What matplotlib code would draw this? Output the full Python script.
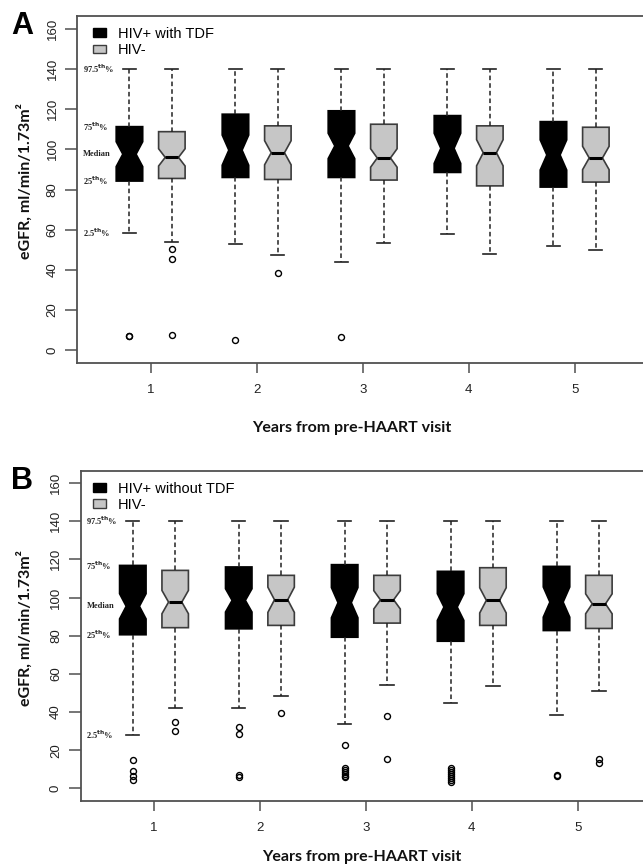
import matplotlib
matplotlib.use("Agg")
import matplotlib.pyplot as plt
from matplotlib.patches import Patch
from matplotlib.transforms import blended_transform_factory

# ---- data ----
years = [1, 2, 3, 4, 5]
hi_whisker = [140, 140, 140, 140, 140]

# panel A: HIV+ with TDF vs HIV-
a_pos_q1 = [84.2, 86.0, 86.0, 88.5, 81.2]
a_pos_med = [97.6, 99.6, 101.7, 100.5, 97.2]
a_pos_q3 = [111.3, 117.5, 119.2, 116.8, 113.8]
a_pos_lo = [58.5, 53.0, 43.8, 57.8, 51.8]
a_pos_notch = [6.2, 7.5, 6.3, 7.5, 7.5]
a_pos_fliers = [[7.2, 6.8], [5.2], [6.5], [], []]

a_neg_q1 = [85.5, 85.0, 84.7, 81.8, 83.7]
a_neg_med = [96.0, 98.3, 95.7, 98.3, 95.7]
a_neg_q3 = [108.8, 111.7, 112.5, 111.7, 111.0]
a_neg_lo = [53.8, 47.5, 53.5, 47.8, 50.0]
a_neg_notch = [4.3, 6.0, 4.6, 6.5, 5.8]
a_neg_fliers = [[50.2, 45.5, 7.7], [38.5], [], [], []]

# panel B: HIV+ without TDF vs HIV-
b_pos_q1 = [80.5, 83.6, 79.2, 77.1, 82.7]
b_pos_med = [95.4, 98.5, 97.3, 95.0, 97.6]
b_pos_q3 = [116.8, 116.0, 117.2, 113.7, 116.3]
b_pos_lo = [28.2, 42.2, 33.6, 44.8, 38.3]
b_pos_notch = [6.6, 6.1, 7.9, 7.0, 7.9]
b_pos_fliers = [[15, 9, 6.7, 4.5], [32.2, 28.3, 7.2, 6.1],
                [23, 10.5, 9.5, 8.5, 7.5, 6.5, 6],
                [10.5, 9.5, 8.5, 7.5, 6.5, 5.5, 4.5, 3.2], [7, 6.6]]

b_neg_q1 = [84.2, 85.4, 86.6, 85.4, 83.8]
b_neg_med = [97.6, 98.8, 98.8, 98.5, 96.7]
b_neg_q3 = [114.2, 111.6, 111.6, 115.6, 111.6]
b_neg_lo = [42.2, 48.3, 54.0, 53.5, 50.9]
b_neg_notch = [6.1, 6.6, 4.8, 6.6, 5.2]
b_neg_fliers = [[34.8, 30.3], [39.6], [37.8, 15.6], [], [15.4, 13.1]]

GRAY = "#c6c6c6"
EDGE = "#3c3c3c"
W, H = 643, 867


def make_stats(q1, med, q3, lo, hi, notch, fliers):
    out = []
    for i in range(len(q1)):
        out.append(dict(q1=q1[i], med=med[i], q3=q3[i], whislo=lo[i], whishi=hi[i],
                        cilo=med[i] - notch[i], cihi=med[i] + notch[i],
                        fliers=fliers[i], label=""))
    return out


def draw_group(ax, stats, positions, face, edge):
    ax.bxp(stats, positions=positions, widths=0.25, capwidths=0.125,
           shownotches=True, patch_artist=True, manage_ticks=False,
           boxprops=dict(facecolor=face, edgecolor=edge, linewidth=1.2),
           medianprops=dict(color="black", linewidth=2.2, solid_capstyle="butt"),
           whiskerprops=dict(color="#222222", linewidth=1.1, linestyle=(0, (3, 2))),
           capprops=dict(color="#222222", linewidth=1.2),
           flierprops=dict(marker="o", markerfacecolor="none", markeredgecolor="black",
                           markersize=4.3, markeredgewidth=1.0))


def panel(rect_px, letter, pos_label, pos, neg, xlabel_px):
    left, right, top, bottom = rect_px
    ax = fig.add_axes([left / W, 1 - bottom / H, (right - left) / W, (bottom - top) / H])
    pos_x = [y - 0.2 for y in years]
    neg_x = [y + 0.2 for y in years]
    draw_group(ax, make_stats(*pos), pos_x, "black", "black")
    draw_group(ax, make_stats(*neg), neg_x, GRAY, EDGE)

    ax.set_xlim(0.308, 5.692)
    ax.set_ylim(-6.4, 166.4)
    ax.set_xticks(years)
    ax.set_xticklabels([str(y) for y in years])
    ax.set_yticks([0, 20, 40, 60, 80, 100, 120, 140, 160])
    for s in ax.spines.values():
        s.set_color("#505050")
        s.set_linewidth(1.3)
    ax.tick_params(axis="x", length=7, width=1.1, color="#505050", pad=8,
                   labelsize=9.5, labelcolor="#222222")
    ax.tick_params(axis="y", length=8.5, width=1.1, color="#505050", pad=5,
                   labelsize=9.5, labelcolor="#222222", labelrotation=90)
    for t in ax.get_xticklabels() + ax.get_yticklabels():
        t.set_family("Liberation Sans")
    for t in ax.get_yticklabels():
        t.set_va("center")

    # percentile annotations next to first box
    tr = blended_transform_factory(ax.transAxes, ax.transData)
    q1, med, q3, lo, hi = pos[0][0], pos[1][0], pos[2][0], pos[3][0], pos[4][0]
    notes = [(hi, r"97.5$^{\mathbf{th}}$%"), (q3, r"75$^{\mathbf{th}}$%"),
             (med, "Median"), (q1, r"25$^{\mathbf{th}}$%"), (lo, r"2.5$^{\mathbf{th}}$%")]
    for yv, txt in notes:
        ax.text(0.01, yv, txt, transform=tr, ha="left", va="center",
                fontsize=6, fontweight="bold", family="Liberation Serif",
                color="#222222")

    handles = [Patch(facecolor="black", edgecolor="black"),
               Patch(facecolor=GRAY, edgecolor=EDGE, linewidth=1.0)]
    ax.legend(handles, [pos_label, "HIV-"], loc="upper left",
              bbox_to_anchor=((93 - left) / (right - left),
                              (bottom - (top + 11)) / (bottom - top)),
              frameon=False, handlelength=0.9, handleheight=0.55,
              handletextpad=0.8, labelspacing=0.15, borderpad=0, borderaxespad=0,
              prop=dict(family="Liberation Sans", size=10.5))

    fig.text(22 / W, 1 - (top + 10) / H, letter, ha="center", va="center",
             fontsize=22, fontweight="bold", family="Liberation Sans")
    fig.text(25 / W, 1 - ((top + bottom) / 2 - 8) / H, "eGFR, ml/min/1.73m²",
             rotation=90, ha="center", va="center", fontsize=11.5,
             fontweight="bold", family="Lato", color="#111111")
    fig.text(xlabel_px[0] / W, 1 - xlabel_px[1] / H, "Years from pre-HAART visit",
             ha="center", va="center", fontsize=11.5, fontweight="bold",
             family="Lato", color="#111111")
    return ax


fig = plt.figure(figsize=(W / 100, H / 100), dpi=100)
panel((77.3, 648, 16, 363), "A", "HIV+ with TDF",
      (a_pos_q1, a_pos_med, a_pos_q3, a_pos_lo, hi_whisker, a_pos_notch, a_pos_fliers),
      (a_neg_q1, a_neg_med, a_neg_q3, a_neg_lo, hi_whisker, a_neg_notch, a_neg_fliers),
      (352, 428))
panel((80.7, 651, 470.7, 800.7), "B", "HIV+ without TDF",
      (b_pos_q1, b_pos_med, b_pos_q3, b_pos_lo, hi_whisker, b_pos_notch, b_pos_fliers),
      (b_neg_q1, b_neg_med, b_neg_q3, b_neg_lo, hi_whisker, b_neg_notch, b_neg_fliers),
      (362, 857))

fig.savefig("out.png", dpi=100)
